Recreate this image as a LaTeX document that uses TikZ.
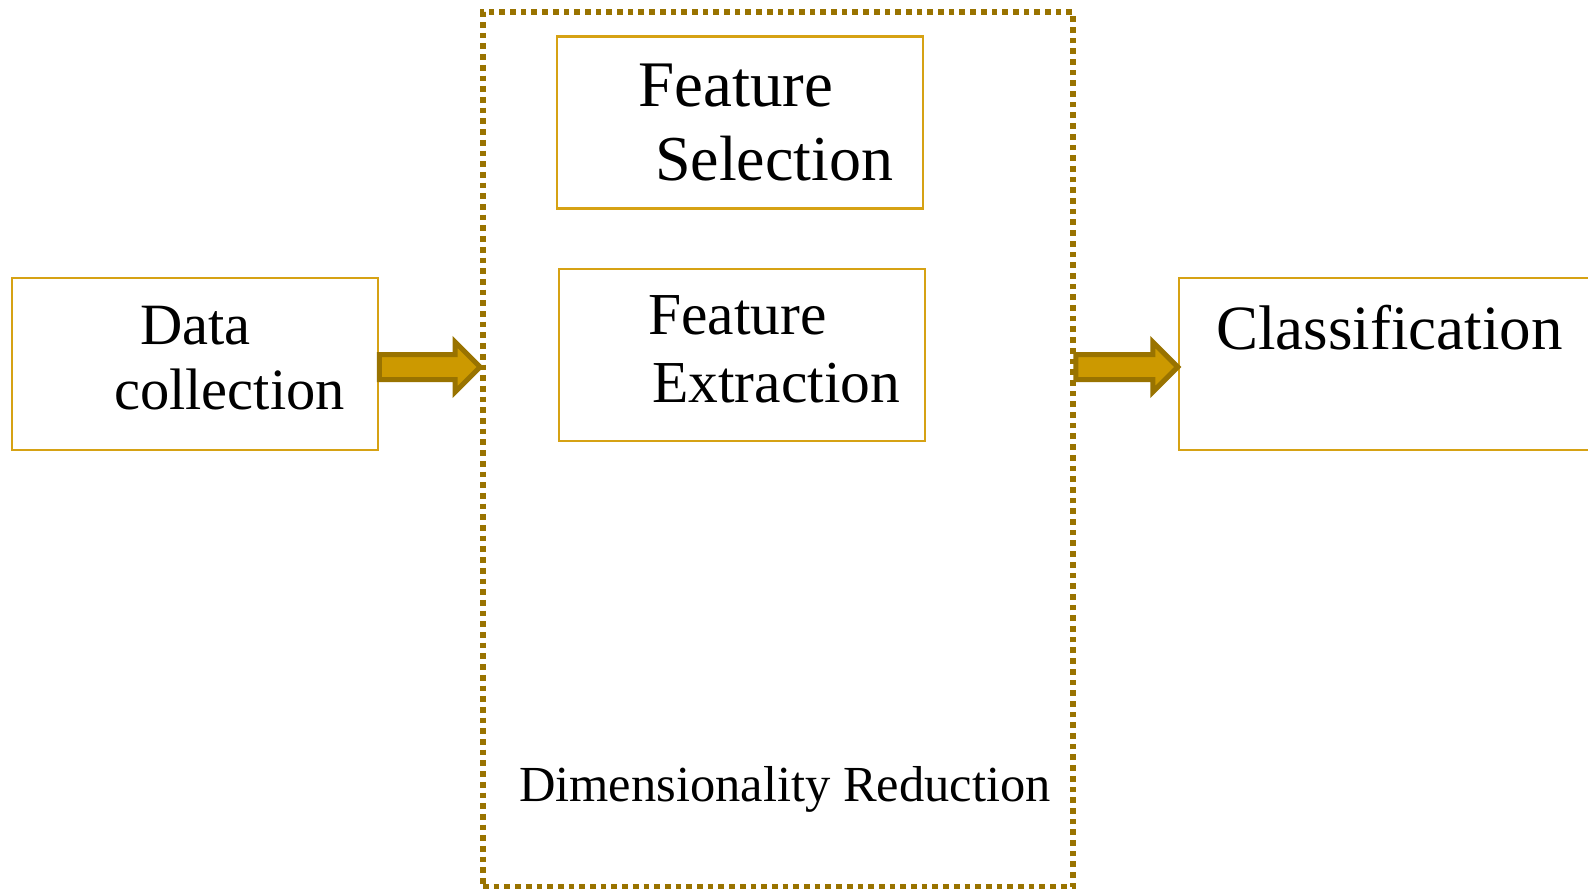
\documentclass[tikz,border=0pt]{standalone}
\usepackage{fontspec}
\setmainfont{Liberation Serif}
\usetikzlibrary{positioning, calc}

\definecolor{boxgold}{RGB}{214,162,20}
\definecolor{arrowfill}{RGB}{204,153,0}
\definecolor{arrowedge}{RGB}{153,115,0}

\tikzset{
 box/.style={draw=boxgold, line width=2.5pt, minimum width=366pt, minimum height=172pt, inner sep=0pt},
 txt/.style={anchor=base west, inner sep=0pt},
 fat/.style={fill=arrowfill, draw=arrowedge, line width=5pt, line join=miter},
}
\newcommand{\fsz}[1]{\fontsize{#1}{#1}\selectfont}
\newcommand{\fatarrow}[2]{%
 \draw[fat] ($(#1)+(0,-12.5)$) -- ($(#2)+(-25,-12.5)$) -- ($(#2)+(-25,-25)$) -- (#2)
  -- ($(#2)+(-25,25)$) -- ($(#2)+(-25,12.5)$) -- ($(#1)+(0,12.5)$) -- cycle;}

\begin{document}
\begin{tikzpicture}[x=1pt, y=-1pt]
 \useasboundingbox (0,0) rectangle (1588,889);
 \node[box] (data) at (195,364) {};
 \node[box] (fsel) at (740,122.5) {};
 \node[box] (fext) at (742,355) {};
 \node[box, minimum width=422pt] (clf) at (1390,364) {};
 \node[draw=arrowedge, line width=5.7pt, dash pattern=on 5.7pt off 5pt,
  minimum width=590pt, minimum height=875pt, inner sep=0pt] (dimred) at (778,449.5) {};

 \node[txt, font=\fsz{58.5}] (dataA) at (140,344) {Data};
 \node[txt, font=\fsz{58.5}] (dataB) at (114,409) {collection};
 \node[txt, font=\fsz{65}] (fselA) at (638,106) {Feature};
 \node[txt, font=\fsz{64}] (fselB) at (655,180) {Selection};
 \node[txt, font=\fsz{59.5}] (fextA) at (648,334) {Feature};
 \node[txt, font=\fsz{59.5}] (fextB) at (652,402) {Extraction};
 \node[txt, font=\fsz{63}] (clfA) at (1216,349) {Classification};
 \node[txt, font=\fsz{50.5}] (dimA) at (519,801) {Dimensionality Reduction};

 \coordinate (tail1) at ($(data.east)+(0,3)$);
 \coordinate (in1) at ($(dimred.west |- data.east)+(0,3)$);
 \coordinate (out1) at ($(dimred.east |- clf.west)+(0,3)$);
 \coordinate (in2) at ($(clf.west)+(0,3)$);
 \fatarrow{tail1}{in1}
 \fatarrow{out1}{in2}
\end{tikzpicture}
\end{document}
